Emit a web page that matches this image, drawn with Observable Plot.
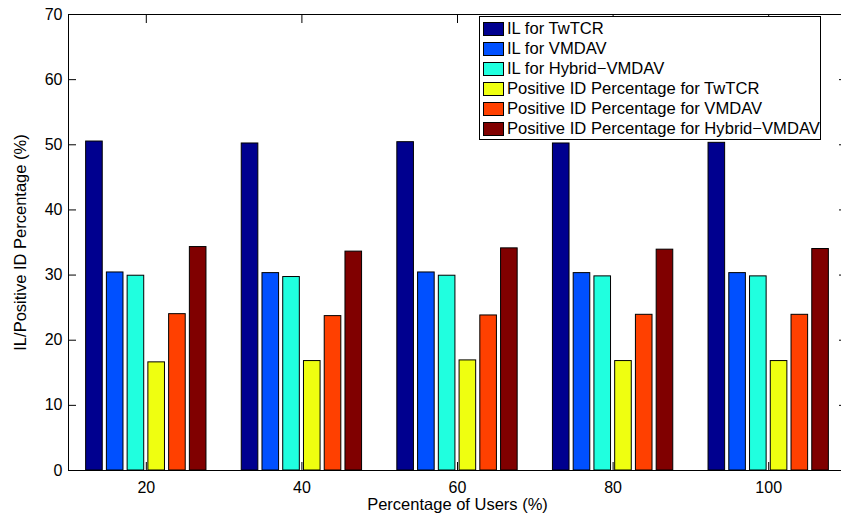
<!DOCTYPE html>
<html>
<head>
<meta charset="utf-8">
<script src="https://cdn.jsdelivr.net/npm/d3@7"></script>
<script src="https://cdn.jsdelivr.net/npm/@observablehq/plot@0.6"></script>
<style>
  html, body { margin: 0; padding: 0; background: #fff; overflow: hidden; }
  #chart { position: relative; width: 841px; height: 524px; overflow: hidden;
           font-family: "Liberation Sans", Arial, sans-serif; }
  #legend { position: absolute; left: 479px; top: 16px; width: 342px; height: 124px;
            box-sizing: border-box; border: 1px solid #000; background: #fff;
            padding: 2px 0 0 3px; }
  #legend .row { height: 20px; display: flex; align-items: center; font-size: 16.6px;
                 white-space: nowrap; color: #000; line-height: 20px; }
  #legend .sw { width: 21px; height: 14px; box-sizing: border-box; border: 1px solid #000;
                margin-right: 3px; flex: none; }
</style>
</head>
<body>
<div id="chart"></div>
<script>
// ---- data ----
const groups = [20, 40, 60, 80, 100];
const seriesNames = [
  "IL for TwTCR",
  "IL for VMDAV",
  "IL for Hybrid\u2212VMDAV",
  "Positive ID Percentage for TwTCR",
  "Positive ID Percentage for VMDAV",
  "Positive ID Percentage for Hybrid\u2212VMDAV"
];
const seriesColors = ["#00008F", "#0050FF", "#20FFDF", "#EFFF10", "#FF4000", "#800000"];
const ilTwTCR   = [50.5, 50.2, 50.4, 50.2, 50.3];
const ilVMDAV   = [30.4, 30.3, 30.4, 30.3, 30.3];
const ilHybrid  = [29.9, 29.7, 29.9, 29.8, 29.8];
const posTwTCR  = [16.6, 16.8, 16.9, 16.8, 16.8];
const posVMDAV  = [24.0, 23.7, 23.8, 23.9, 23.9];
const posHybrid = [34.3, 33.6, 34.1, 33.9, 34.0];
const yTicks = [0, 10, 20, 30, 40, 50, 60, 70];
const xLabel = "Percentage of Users (%)";
const yLabel = "IL/Positive ID Percentage (%)";

// ---- build table ----
const seriesValues = [ilTwTCR, ilVMDAV, ilHybrid, posTwTCR, posVMDAV, posHybrid];
const groupSpacing = 20;                 // distance between group values
const groupWidth = 0.8 * groupSpacing;   // MATLAB grouped-bar layout
const slot = groupWidth / seriesNames.length;
const barW = 0.8 * slot;
const rows = [];
seriesValues.forEach((vals, i) => {
  vals.forEach((v, j) => {
    const c = groups[j] + (i - (seriesNames.length - 1) / 2) * slot;
    rows.push({group: groups[j], series: seriesNames[i], value: v, x1: c - barW / 2, x2: c + barW / 2});
  });
});

const chart = Plot.plot({
  width: 841,
  height: 524,
  marginTop: 14,
  marginBottom: 54,
  marginLeft: 68,
  marginRight: -5,
  style: {fontFamily: "'Liberation Sans', Arial, sans-serif", fontSize: "16px", background: "white", color: "black"},
  x: {domain: [10, 110]},
  y: {domain: [0, 70]},
  color: {domain: seriesNames, range: seriesColors},
  marks: [
    Plot.rectY(rows, {x1: "x1", x2: "x2", y: "value", fill: "series", stroke: "black", strokeWidth: 1}),
    Plot.frame({stroke: "black", strokeWidth: 1}),
    Plot.axisX({anchor: "bottom", ticks: groups, tickSize: -8, tickPadding: 19, label: null}),
    Plot.axisX({anchor: "top", ticks: groups, tickSize: -8, tickFormat: () => "", label: null}),
    Plot.axisY({anchor: "left", ticks: yTicks, tickSize: -8, tickPadding: 14, label: null}),
    Plot.axisY({anchor: "right", ticks: yTicks, tickSize: -8, tickFormat: () => "", label: null}),
    Plot.text([xLabel], {frameAnchor: "bottom", dy: 34, lineAnchor: "middle", textAnchor: "middle",
                         text: d => d, fontSize: 16.5, fill: "black"}),
    Plot.text([yLabel], {frameAnchor: "left", dx: -48, rotate: -90, lineAnchor: "middle", textAnchor: "middle",
                         text: d => d, fontSize: 16.5, fill: "black"})
  ]
});

const container = document.getElementById("chart");
container.appendChild(chart);

// legend (inside plot area, top-right, as in the reference)
const legend = d3.select(container).append("div").attr("id", "legend");
const items = legend.selectAll("div.row").data(seriesNames).join("div").attr("class", "row");
items.append("div").attr("class", "sw").style("background", (d, i) => seriesColors[i]);
items.append("span").text(d => d);
</script>
</body>
</html>
